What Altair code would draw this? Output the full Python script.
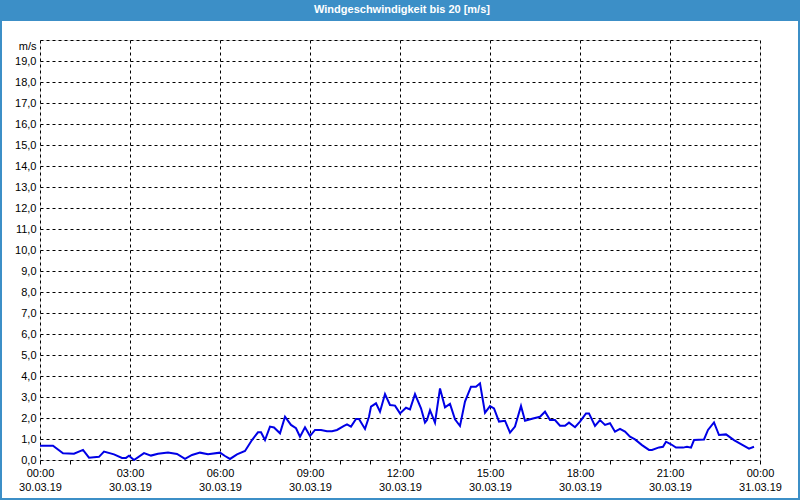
import altair as alt
import pandas as pd

# time of day (30.03.2019) and wind speed in m/s
times = ["00:00", "00:26", "00:46", "01:08", "01:26", "01:38", "01:58", "02:08", "02:28", "02:44",
         "02:52", "02:58", "03:08", "03:28", "03:42", "03:56", "04:16", "04:34", "04:50", "05:04",
         "05:20", "05:36", "06:00", "06:10", "06:20", "06:34", "06:50", "07:04", "07:16", "07:22",
         "07:30", "07:40", "07:48", "08:00", "08:10", "08:22", "08:32", "08:40", "08:50", "09:00",
         "09:10", "09:22", "09:34", "09:44", "09:54", "10:08", "10:14", "10:22", "10:32", "10:38",
         "10:50", "10:58", "11:02", "11:12", "11:20", "11:30", "11:40", "11:50", "12:00", "12:12",
         "12:20", "12:30", "12:42", "12:50", "12:54", "13:00", "13:10", "13:20", "13:30", "13:40",
         "13:50", "14:00", "14:10", "14:22", "14:32", "14:40", "14:50", "15:00", "15:08", "15:18",
         "15:30", "15:40", "15:50", "16:02", "16:10", "16:26", "16:40", "16:50", "17:00", "17:10",
         "17:20", "17:30", "17:38", "17:50", "18:00", "18:12", "18:18", "18:30", "18:40", "18:50",
         "19:00", "19:10", "19:20", "19:30", "19:40", "19:50", "20:04", "20:18", "20:24", "20:38",
         "20:46", "20:52", "21:02", "21:12", "21:26", "21:34", "21:42", "21:48", "22:08", "22:16",
         "22:28", "22:38", "22:52", "23:08", "23:22", "23:38", "23:48"]
speeds = [0.68, 0.68, 0.32, 0.30, 0.48, 0.11, 0.15, 0.40, 0.27, 0.10,
          0.10, 0.20, 0.00, 0.33, 0.21, 0.30, 0.36, 0.29, 0.05, 0.24,
          0.35, 0.27, 0.35, 0.19, 0.05, 0.27, 0.43, 0.95, 1.32, 1.32,
          0.95, 1.59, 1.55, 1.27, 2.06, 1.67, 1.51, 1.11, 1.56, 1.14,
          1.43, 1.43, 1.37, 1.37, 1.43, 1.62, 1.70, 1.59, 1.95, 1.95,
          1.48, 2.06, 2.54, 2.70, 2.30, 3.14, 2.62, 2.59, 2.22, 2.49,
          2.41, 3.14, 2.46, 1.78, 1.90, 2.37, 1.78, 3.41, 2.51, 2.67,
          1.94, 1.62, 2.78, 3.49, 3.49, 3.65, 2.25, 2.57, 2.46, 1.83,
          1.87, 1.30, 1.59, 2.57, 1.87, 1.98, 2.06, 2.30, 1.90, 1.90,
          1.63, 1.63, 1.78, 1.56, 1.83, 2.22, 2.22, 1.62, 1.90, 1.67,
          1.75, 1.35, 1.48, 1.35, 1.11, 0.98, 0.71, 0.48, 0.48, 0.60,
          0.63, 0.87, 0.75, 0.59, 0.59, 0.63, 0.59, 0.95, 0.98, 1.43,
          1.79, 1.19, 1.22, 0.95, 0.76, 0.54, 0.63]
y_ticks = list(range(0, 21))

title_text = "Windgeschwindigkeit bis 20 [m/s]"
FONT = "Liberation Sans"
BLUE = "#3c8fc7"

df = pd.DataFrame({"t": ["2019-03-30T" + t for t in times], "v": speeds})

hour_values = [alt.DateTime(year=2019, month=3, date=30 + h // 24, hours=h % 24) for h in range(25)]
x_scale = alt.Scale(domain=[hour_values[0], hour_values[-1]])

x_axis = alt.Axis(
    title=None,
    values=hour_values,
    labelExpr="hours(datum.value) % 3 == 0 ? [timeFormat(datum.value, '%H:%M'), timeFormat(datum.value, '%d.%m.%y')] : ''",
    grid=True,
    gridDash=[3, 3],
    gridColor="black",
    gridOpacity=alt.condition("hours(datum.value) % 3 == 0", alt.value(1), alt.value(0)),
    ticks=True,
    tickSize=4,
    tickColor="black",
    domain=False,
    labelPadding=3,
    labelLineHeight=14,
    labelFont=FONT,
    labelFontSize=11,
    labelColor="black",
    labelAngle=0,
    labelAlign="center",
    labelBaseline="top",
    labelFlush=False,
    labelOverlap=False,
)

y_axis = alt.Axis(
    title=None,
    values=y_ticks,
    labelExpr="datum.value == 20 ? 'm/s' : replace(format(datum.value, '.1f'), '.', ',')",
    grid=True,
    gridDash=[3, 3],
    gridColor="black",
    ticks=False,
    domain=False,
    labelPadding=4,
    labelFont=FONT,
    labelFontSize=11,
    labelColor="black",
    labelOffset=alt.condition("datum.value == 20", alt.value(6), alt.value(0)),
    labelOverlap=False,
    labelFlush=False,
)

line = alt.Chart(df).mark_line(color="#0000e6", strokeWidth=2).encode(
    x=alt.X("t:T", scale=x_scale, axis=x_axis),
    y=alt.Y("v:Q", scale=alt.Scale(domain=[0, 20], nice=False), axis=y_axis),
)

one = pd.DataFrame({"k": [0]})
title_bar = alt.Chart(one).mark_rect(color=BLUE).encode(
    x=alt.value(-40), x2=alt.value(760), y=alt.value(-40), y2=alt.value(-19)
)
frame = alt.Chart(one).mark_rect(fill=None, stroke=BLUE, strokeWidth=2).encode(
    x=alt.value(-39), x2=alt.value(759), y=alt.value(-39), y2=alt.value(459)
)
title_mark = alt.Chart(one).mark_text(
    text=title_text, color="white", font=FONT, fontSize=11, fontWeight="bold",
    align="center", baseline="middle",
).encode(x=alt.value(362), y=alt.value(-30))

chart = alt.layer(frame, title_bar, title_mark, line).properties(
    width=720,
    height=420,
    autosize=alt.AutoSizeParams(type="none"),
    padding={"left": 40, "top": 40, "right": 40, "bottom": 40},
).configure_view(stroke="black", strokeWidth=1).configure(background="white")

chart.save("out.html", embed_options={"renderer": "svg", "actions": False})
